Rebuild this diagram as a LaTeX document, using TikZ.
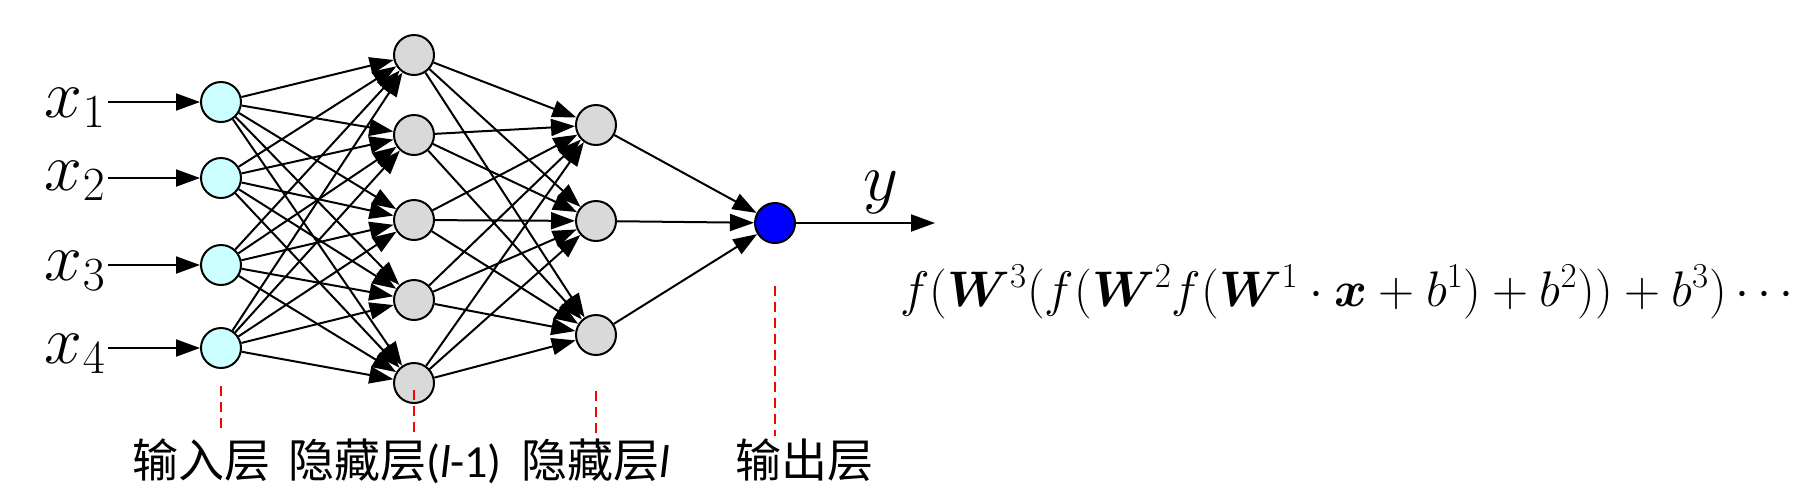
\RequirePackage{fix-cm}
\documentclass[tikz,border=0pt]{standalone}
\usepackage{fontspec}
\usepackage{bm}
\usetikzlibrary{arrows.meta}
\newfontfamily\cjk{Noto Sans CJK SC}
\newfontfamily\labfont{Carlito}
\definecolor{inputFill}{RGB}{204,255,255}
\definecolor{hiddenFill}{RGB}{217,217,217}

\begin{document}
\begin{tikzpicture}[
x=0.5pt,y=-0.5pt,
flow/.style={-{Triangle[length=12pt,width=8.5pt]},line width=1pt},
neuron/.style={circle,draw,line width=1pt,minimum size=20pt,inner sep=0pt},
inp/.style={neuron,fill=inputFill},
hid/.style={neuron,fill=hiddenFill},
outp/.style={neuron,fill=blue},
xlab/.style={anchor=base east,inner sep=1pt,font=\fontsize{34}{38}\selectfont},
layerLabel/.style={anchor=base,inner sep=0pt,font=\cjk\fontsize{23}{28}\selectfont},
guide/.style={red,line width=1pt,dash pattern=on 5pt off 3pt}
]
\useasboundingbox (0,0) rectangle (1797,500);

% neurons, layer by layer
\foreach \y [count=\i] in {102,178,265,348}
 \node[inp] (in\i) at (221,\y) {};
\foreach \y [count=\i] in {55,135,220,300,383}
 \node[hid] (ha\i) at (414,\y) {};
\foreach \y [count=\i] in {125,221,335}
 \node[hid] (hb\i) at (596,\y) {};
\node[outp] (out) at (775,223) {};

% inputs
\foreach \i/\y in {1/117,2/190,3/280,4/363}
 \node[xlab] (x\i) at (108,\y) {$x_{\i}$};
\foreach \i in {1,...,4}
 \draw[flow] (x\i.east |- in\i) -- (in\i);

% full connections
\foreach \i in {1,...,4}
 \foreach \j in {1,...,5}
  \draw[flow] (in\i) -- (ha\j);
\foreach \i in {1,...,5}
 \foreach \j in {1,...,3}
  \draw[flow] (ha\i) -- (hb\j);
\foreach \i in {1,...,3}
 \draw[flow] (hb\i) -- (out);

% output
\coordinate (yend) at (935,223);
\draw[flow] (out) -- (yend);
\node[anchor=base,inner sep=0pt,font=\fontsize{34}{38}\selectfont] (ylab) at (881,200) {$y$};
\node[anchor=west,inner sep=0pt,font=\fontsize{25}{30}\selectfont] (formula) at (900,292)
 {$f(\bm{W}^3\bigl(f(\bm{W}^2f(\bm{W}^1\cdot\bm{x}+b^1)+b^2)\bigr)+b^3)\cdots$};

% layer names
\node[layerLabel] (labIn) at (201,477) {输入层};
\node[layerLabel] (labHa) at (395,477) {隐藏层{\labfont(\textit{l}-1)}};
\node[layerLabel] (labHb) at (596,477) {隐藏层{\labfont\itshape l}};
\node[layerLabel] (labOut) at (804,477) {输出层};

\draw[guide] (in4.south) ++(0,17) -- ++(0,45);
\draw[guide] (ha5.center) ++(0,7) -- ++(0,47);
\draw[guide] (hb3.south) ++(0,35) -- ++(0,47);
\draw[guide] (out.south) ++(0,42) -- ++(0,150);
\end{tikzpicture}
\end{document}
